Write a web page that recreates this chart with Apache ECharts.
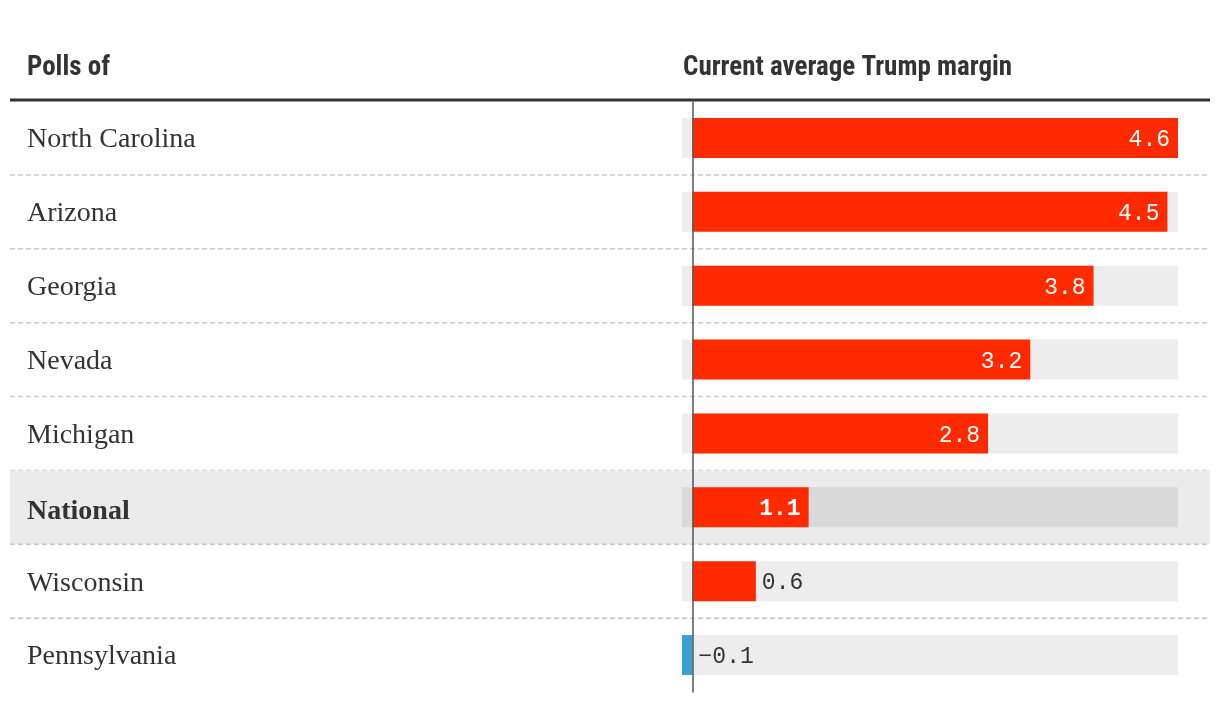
<!DOCTYPE html>
<html>
<head>
<meta charset="utf-8">
<script src="https://cdn.jsdelivr.net/npm/echarts@6/dist/echarts.min.js"></script>
<style>
html,body{margin:0;padding:0;background:#fff;}
#chart{width:1220px;height:702px;}
</style>
</head>
<body>
<div id="chart"></div>
<script>
const categories = ['North Carolina', 'Arizona', 'Georgia', 'Nevada', 'Michigan', 'National', 'Wisconsin', 'Pennsylvania'];
const margins = [4.6, 4.5, 3.8, 3.2, 2.8, 1.1, 0.6, -0.1];
const highlighted = 'National';
const headerLeft = 'Polls of';
const headerRight = 'Current average Trump margin';
const axisMin = -0.1;
const axisMax = 4.6;

const RED = '#ff2a00', BLUE = '#3b9fd1';
const monoFont = '"Liberation Mono", "DejaVu Sans Mono", monospace';
const serifFont = '"Liberation Serif", "DejaVu Serif", serif';
const headFont = '"Liberation Sans Narrow", "Roboto Condensed", Roboto, sans-serif';

const chart = echarts.init(document.getElementById('chart'), null, {renderer: 'canvas'});

const barData = margins.map((v, i) => {
  const hl = categories[i] === highlighted;
  const inside = v >= 1;
  return {
    value: v,
    itemStyle: {color: v >= 0 ? RED : BLUE},
    label: {
      show: true,
      position: inside ? 'insideRight' : 'right',
      distance: inside ? 8 : 6,
      offset: [0, 2],
      color: inside ? '#fff' : '#333',
      fontWeight: hl ? 'bold' : 'normal',
      formatter: (p) => (p.value < 0 ? '\u2212' + Math.abs(p.value).toFixed(1) : p.value.toFixed(1))
    }
  };
});

const option = {
  animation: false,
  backgroundColor: '#fff',
  grid: {left: 682, right: 42, top: 101, bottom: 10, containLabel: false},
  xAxis: {
    type: 'value', min: axisMin, max: axisMax, show: false
  },
  yAxis: {
    type: 'category', data: categories, inverse: true, z: 10,
    axisLine: {show: true, onZero: true, lineStyle: {color: '#555', width: 1.5}},
    axisTick: {show: false},
    splitLine: {show: false},
    axisLabel: {
      align: 'left', margin: 655,
      fontFamily: serifFont, fontSize: 28, color: '#333',
      padding: [4, 0, 0, 0],
      formatter: (v) => v === highlighted ? '{b|' + v + '}' : v,
      rich: {b: {fontFamily: serifFont, fontSize: 28, fontWeight: 'bold', color: '#333', padding: [4, 0, 0, 0]}}
    }
  },
  graphic: [
    {type: 'text', left: 27, top: 55, style: {text: headerLeft, font: 'bold 27px ' + headFont, fill: '#333'}},
    {type: 'text', left: 683, top: 55, style: {text: headerRight, font: 'bold 27px ' + headFont, fill: '#333'}},
    {type: 'line', shape: {x1: 10, y1: 100, x2: 1210, y2: 100}, style: {stroke: '#333', lineWidth: 3}}
  ],
  series: [
    {
      type: 'custom', z: 1, silent: true,
      data: categories.map((c, i) => [i]),
      encode: {y: 0},
      renderItem: function (params, api) {
        const i = api.value(0);
        const hl = categories[i] === highlighted;
        const c = api.coord([0, i]);
        const band = api.size([0, 1])[1];
        const yTop = c[1] - band / 2, yBot = c[1] + band / 2;
        const p0 = api.coord([axisMin, i]), p1 = api.coord([axisMax, i]);
        const children = [];
        if (hl) children.push({type: 'rect', shape: {x: 10, y: yTop, width: 1200, height: band}, style: {fill: '#ebebeb'}});
        children.push({type: 'rect', shape: {x: p0[0], y: c[1] - 20, width: p1[0] - p0[0], height: 40}, style: {fill: hl ? '#d9d9d9' : '#ededed'}});
        if (i < categories.length - 1) {
          children.push({type: 'line', shape: {x1: 10, y1: yBot, x2: 1210, y2: yBot}, style: {stroke: '#c8c8c8', lineWidth: 1.5, lineDash: [5, 3]}});
        }
        return {type: 'group', children: children};
      }
    },
    {
      type: 'bar', z: 2, barWidth: 40,
      data: barData,
      label: {fontFamily: monoFont, fontSize: 23}
    }
  ]
};
chart.setOption(option);
</script>
</body>
</html>
